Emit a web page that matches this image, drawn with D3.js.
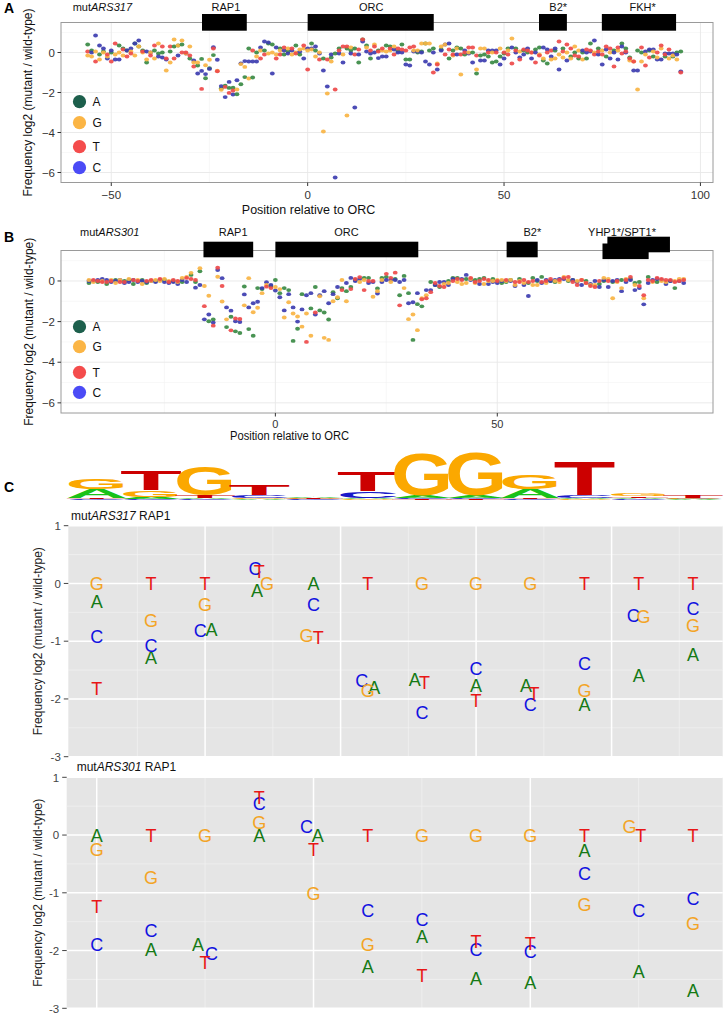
<!DOCTYPE html>
<html>
<head>
<meta charset="utf-8">
<script src="https://cdn.jsdelivr.net/npm/d3@7"></script>
<style>
  body { margin: 0; background: #fff; }
  svg { display: block; font-family: "Liberation Sans", Arial, sans-serif; }
</style>
</head>
<body>
<div id="fig"></div>
<script>
// Mutational scan of two silencers: log2(mutant / wild-type) per base and position.
// Panels A/B: every substitution along the silencer. Panel C: the RAP1 sites,
// with the motif logo on top.

const n = null;
const BASES = ["A", "C", "G", "T"];

// ---- panel A: mutARS317, positions -56 .. 95 ---------------------------------
const start317 = -56;
const a317A = [
  0.4, 0.1, n, -0.1, 0.05, n, 0.0, n, 0.35, 0.2,
  0.1, n, 0.45, 0.3, 0.1, -0.5, n, 0.1, -0.05, 0.0,
  n, 0.05, 0.3, 0.35, 0.4, n, -0.3, n, -0.65, -0.32,
  -1.29, -0.79, -0.13, n, -1.8, -1.66, -1.77, -1.76, -2.09, -1.59,
  -1.23, 0.2, -1.25, 0.0, n, 0.1, 0.45, 0.4, n, 0.2,
  -0.1, 0.05, n, 0.35, -0.1, n, n, 0.45, 0.1, n,
  -0.3, n, -0.25, -0.05, 0.2, n, 0.2, 0.1, 0.2, -0.5,
  0.65, 0.35, -0.3, n, 0.1, n, 0.35, 0.3, n, 0.05,
  0.4, -0.35, -0.35, n, 0.0, 0.05, 0.45, 0.1, 0.2, n,
  0.15, n, -0.3, 0.1, 0.25, 0.2, -0.1, n, 0.0, -1.05,
  -0.15, -0.1, -0.2, -0.5, -0.45, -0.2, -0.05, 0.2, n, 0.2,
  n, 0.1, 0.0, n, 0.15, 0.25, -0.4, -0.55, n, 0.1,
  n, 0.2, n, -0.2, 0.0, -0.3, 0.0, -0.3, 0.45, n,
  0.2, n, -0.2, n, 0.1, n, 0.45, 0.2, -0.25, n,
  0.1, 0.0, n, 0.1, -0.2, n, n, -0.2, n, -0.2,
  0.0, 0.05
];
const a317C = [
  n, 0.0, 0.85, 0.35, 0.2, -0.3, 0.1, -0.35, -0.35, n,
  0.1, 0.2, 0.45, 0.6, n, 0.05, 0.0, n, -0.2, -0.25,
  -0.35, n, n, -0.15, n, -0.05, n, -0.4, -1.05, -0.92,
  -1.08, -0.82, 0.26, -0.36, -1.68, -2.23, -1.47, -2.1, -1.39, -0.55,
  -0.43, -0.45, -0.45, -0.45, 0.25, 0.55, 0.5, -1.05, 0.25, n,
  0.1, -0.05, 0.1, n, 0.05, -0.3, 0.2, 0.2, 0.3, -0.05,
  -0.9, -1.7, -0.1, -6.25, -0.05, -0.5, n, -0.05, -2.75, -0.1,
  0.55, 0.05, -0.05, 0.0, -0.28, -0.2, -0.2, n, 0.15, 0.0,
  0.0, -0.6, -0.65, 0.05, 0.05, 0.0, -0.45, -0.6, 0.0, -0.85,
  0.1, 0.4, 0.45, n, -0.1, n, 0.1, -0.05, -0.5, n,
  -0.4, -0.4, 0.1, 0.1, 0.1, -0.6, -0.3, n, 0.25, 0.0,
  -0.25, -0.1, 0.2, -0.3, 0.0, n, 0.25, 0.15, -0.2, 0.2,
  -0.85, n, -0.4, n, n, n, 0.1, 0.0, 0.05, 0.6,
  -0.1, -0.6, 0.15, -0.3, 0.0, -0.35, 0.3, 0.0, n, -0.9,
  -0.9, n, 0.05, 0.15, 0.15, -0.35, -0.35, -0.05, -0.05, -0.05,
  -0.1, -0.95
];
const a317G = [
  -0.15, -0.2, 0.05, -0.35, 0.0, -0.2, n, -0.1, 0.0, -0.15,
  n, 0.05, -0.15, 0.3, 0.0, -0.35, 0.0, -0.3, 0.45, n,
  -0.9, -0.5, 0.65, 0.35, 0.6, -0.05, 0.3, -0.5, -0.5, n,
  -0.64, -0.36, n, -0.91, -1.86, n, n, n, -1.85, -0.58,
  -0.72, -1.3, n, -0.2, 0.1, n, -0.05, 0.0, -0.1, 0.1,
  n, 0.2, -0.1, 0.0, 0.15, 0.2, 0.1, 0.15, -0.2, 0.0,
  -3.95, -2.05, -0.45, n, n, -0.1, -3.15, 0.25, n, n,
  n, 0.25, n, 0.4, n, 0.1, 0.05, 0.1, 0.3, n,
  n, n, n, 0.1, 0.1, 0.45, 0.45, 0.45, n, -0.55,
  0.3, 0.4, n, -0.15, 0.2, -1.1, n, 0.0, n, -0.85,
  0.2, 0.2, n, 0.0, n, 0.2, n, 0.1, 0.7, n,
  0.05, n, n, 0.0, n, -0.1, -0.3, n, -0.35, -0.3,
  -0.1, -0.25, 0.0, -0.3, 0.3, 0.1, -0.35, n, n, 0.0,
  n, 0.1, n, 0.0, n, 0.1, n, n, -0.4, -0.45,
  -1.85, -0.45, -0.1, n, 0.05, -0.25, 0.2, n, -0.3, -0.15,
  -0.35, n
];
const a317T = [
  0.05, n, -0.45, n, n, -0.1, -0.45, 0.45, n, 0.15,
  -0.2, -0.05, n, n, 0.05, n, -0.15, 0.35, n, 0.3,
  -0.3, 0.3, -0.3, n, 0.0, 0.0, -0.15, -0.7, n, -1.82,
  n, n, 0.2, -0.94, n, -1.72, -2.02, -1.9, n, n,
  n, n, 0.1, n, -0.3, -0.1, n, n, -0.3, -0.1,
  0.25, n, 0.2, -0.05, n, 0.35, -0.85, n, n, -0.35,
  n, -0.35, n, -1.85, 0.1, 0.3, 0.3, n, -0.1, 0.15,
  0.65, n, 0.1, 0.3, 0.05, 0.2, n, 0.2, -0.1, 0.2,
  0.15, 0.1, 0.25, 0.3, n, n, n, n, -1.0, -0.6,
  n, -0.1, 0.15, -0.1, n, -0.1, 0.0, 0.25, 0.25, -0.15,
  n, n, 0.0, n, 0.0, n, 0.0, -0.1, -0.55, 0.1,
  -0.35, 0.15, 0.1, 0.0, -0.5, -0.15, n, 0.0, 0.1, n,
  0.55, 0.05, 0.4, 0.2, -0.15, -0.2, n, 0.15, 0.1, -0.1,
  0.05, -0.1, 0.3, 0.2, -0.7, 0.25, -0.05, 0.05, -0.3, -0.45,
  n, 0.25, -0.65, -0.25, n, 0.0, 0.35, -0.1, 0.15, n,
  n, -1.0
];

// ---- panel B: mutARS301, positions -42 .. 92 ---------------------------------
const start301 = -42;
const b301A = [
  -0.1, n, -0.05, n, -0.15, n, 0.05, n, 0.0, 0.05,
  -0.15, n, 0.05, -0.1, n, 0.0, n, 0.05, n, 0.0,
  n, -0.05, n, 0.3, -0.05, 0.48, n, -1.98, -1.9, n,
  n, -2.27, -1.76, -2.48, -2.56, -0.27, -2.37, -2.7, -0.35, -0.4,
  n, -0.25, 0.05, -0.6, -0.35, -0.45, -2.95, -2.35, -0.65, n,
  -1.35, -0.3, -1.45, -1.55, -1.9, -0.55, -0.85, -0.35, -0.5, -0.3,
  0.05, n, 0.15, 0.15, n, -0.37, 0.15, 0.2, n, 0.1,
  -0.7, 0.25, -0.6, -2.9, -1.14, -1.25, n, -0.05, -0.2, -0.3,
  n, 0.0, 0.15, 0.15, n, 0.1, n, 0.05, 0.1, 0.15,
  n, 0.1, n, -0.1, -0.05, 0.05, n, 0.1, n, -0.1,
  0.15, 0.0, 0.2, n, 0.0, -0.05, n, n, 0.0, 0.05,
  n, n, 0.0, n, n, -0.15, 0.0, n, -0.05, n,
  0.05, n, 0.1, -0.1, -0.05, n, 0.2, n, -0.05, n,
  n, 0.0, -0.35, n, n
];
const b301C = [
  0.0, 0.0, 0.05, 0.1, 0.05, -0.05, 0.0, 0.05, -0.1, -0.05,
  0.05, -0.05, 0.0, -0.05, 0.0, -0.05, 0.05, -0.05, -0.1, -0.05,
  -0.15, 0.05, -0.05, n, -0.33, -0.2, -1.89, -1.65, -2.05, 0.54,
  0.14, -1.3, -1.46, -1.98, -2.02, -0.66, -1.3, -1.1, -1.02, -0.35,
  -0.06, -0.2, -0.47, -0.8, -1.45, -0.65, -1.3, -2.0, -1.4, -0.7,
  -0.6, -1.65, -0.7, -0.5, -1.1, -0.65, -0.3, n, -0.1, 0.15,
  0.0, 0.1, n, -0.1, -0.05, -0.62, -0.05, 0.05, 0.05, 0.05,
  -0.05, 0.05, -1.1, -1.05, -0.6, n, -0.45, -0.45, -0.2, -0.05,
  -0.05, -0.2, 0.1, n, 0.1, 0.3, 0.05, n, -0.15, n,
  -0.15, -0.05, -0.1, 0.0, n, 0.0, -0.25, n, -0.2, -0.74,
  n, 0.05, -0.1, 0.05, 0.0, 0.05, 0.1, 0.1, n, 0.05,
  -0.05, -0.2, n, -0.15, 0.0, -0.3, 0.05, -0.3, 0.0, 0.05,
  -0.5, -0.05, 0.05, -0.45, -0.35, -1.15, -0.1, 0.05, 0.1, 0.05,
  -0.15, 0.0, n, 0.0, -0.1
];
const b301G = [
  0.05, -0.05, n, 0.0, n, 0.05, -0.1, 0.05, n, 0.1,
  n, 0.05, -0.15, n, 0.0, 0.05, 0.0, 0.1, 0.0, n,
  -0.05, 0.15, 0.2, 0.4, n, 0.63, -0.25, -0.73, n, 0.21,
  -1.01, -1.89, n, n, n, -1.2, 0.14, -1.54, -1.32, -0.6,
  -0.2, n, -0.3, -0.4, -1.8, -1.05, -1.6, -1.75, -2.25, -1.6,
  -2.7, n, -0.75, -2.8, -2.9, -1.0, -0.8, 0.05, -1.0, n,
  n, -0.05, 0.05, n, -0.78, -0.5, 0.05, n, -0.05, n,
  n, -0.35, -1.88, -1.65, -2.42, -0.85, -0.7, n, n, n,
  -0.15, -0.1, n, -0.05, -0.15, -0.1, 0.1, -0.1, n, -0.15,
  0.0, 0.0, 0.05, 0.05, 0.0, 0.05, -0.2, 0.0, -0.1, n,
  -0.2, -0.2, n, -0.1, n, 0.0, -0.05, 0.2, 0.05, n,
  0.0, 0.05, -0.1, -0.2, -0.2, n, 0.15, 0.1, -0.85, -0.05,
  -0.35, 0.1, n, -0.2, n, -0.85, n, -0.05, n, 0.0,
  -0.05, n, 0.0, 0.1, 0.1
];
const b301T = [
  n, 0.05, 0.0, -0.05, -0.05, 0.0, n, -0.05, -0.05, n,
  0.05, 0.0, n, 0.0, 0.05, n, 0.1, n, -0.05, 0.05,
  0.0, n, 0.15, 0.1, 0.05, n, -1.24, n, -2.2, 0.65,
  -0.25, n, -2.43, -1.85, -1.87, n, n, n, n, n,
  -0.28, -0.35, n, n, n, n, n, n, n, -3.0,
  n, -1.55, n, n, n, n, n, -0.45, n, -0.4,
  0.1, 0.19, -0.45, 0.0, 0.0, n, n, 0.35, 0.15, 0.41,
  -1.2, n, n, n, n, -0.9, -0.85, -0.55, -0.1, -0.25,
  -0.3, n, 0.0, 0.1, 0.05, n, 0.15, -0.05, 0.0, 0.1,
  0.05, n, 0.0, n, 0.05, n, -0.05, -0.05, 0.05, -0.05,
  0.0, n, -0.05, 0.0, 0.1, n, 0.05, 0.15, 0.2, -0.05,
  -0.2, 0.05, -0.1, -0.25, -0.3, 0.0, n, 0.0, n, 0.0,
  n, 0.05, 0.2, n, -0.25, -0.7, 0.05, 0.0, 0.15, 0.1,
  0.05, 0.05, -0.05, 0.0, 0.05
];

// sites drawn above panels A and B (positions relative to ORC)
const site317Names = ["RAP1", "ORC", "B2*", "FKH*"];
const site317Label = [-20.8, 16.2, 63.8, 85.3];
const box317Start = [-26.9, 0, 58.9, 74.9];
const box317End = [-15.5, 32.1, 66.0, 93.8];
const box317Site = [0, 1, 2, 3];

const site301Names = ["RAP1", "ORC", "B2*", "YHP1*/SPT1*"];
const site301Label = [-9.5, 16.0, 57.9, 78.1];
const box301Start = [-16.2, 0, 52.1, 73.7, 74.8];
const box301End = [-5.0, 32.2, 59.1, 84.1, 88.9];
const box301Site = [0, 1, 2, 3, 3];

const scatterYTicks = [0, -2, -4, -6];
const scatterYMinor = [1, -1, -3, -5];
const xTicks317 = [-50, 0, 50, 100];
const xTicks301 = [0, 50];
const xMinorScatter = [-25, 25, 75];

// ---- panel C: RAP1 sites, one letter per base ------------------------------
const rap317Pos = [-27, -26, -25, -24, -23, -22, -21, -20, -19, -18, -17, -16];
const rap317A = [-0.32, -1.29, -0.79, -0.13, 0, -1.8, -1.66, -1.77, -1.76, -2.09, -1.59, -1.23];
const rap317C = [-0.92, -1.08, -0.82, 0.26, -0.36, -1.68, -2.23, -1.47, -2.1, -1.39, -0.55, -0.43];
const rap317G = [0, -0.64, -0.36, 0, -0.91, -1.86, 0, 0, 0, -1.85, -0.58, -0.72];
const rap317T = [-1.82, 0, 0, 0.2, -0.94, 0, -1.72, -2.02, -1.9, 0, 0, 0];
// horizontal jitter of the letters (position units)
const jit317A = [0, 0, 0.12, -0.04, 0, 0.12, -0.13, 0, -0.08, 0, 0, 0];
const jit317C = [0, 0, -0.09, -0.08, 0, -0.11, 0, 0, 0, 0, -0.1, 0];
const jit317G = [0, 0, 0, 0.14, -0.13, 0, 0, 0, 0, 0, 0.09, 0];
const jit317T = [0, 0, 0, 0, 0.09, 0, 0.05, 0, 0.07, 0, 0, 0];
const grid317Major = [-25, -22.5, -20, -17.5];
const grid317Minor = [-26.25, -23.75, -21.25, -18.75, -16.25];

const rap301Pos = [-16, -15, -14, -13, -12, -11, -10, -9, -8, -7, -6, -5];
const rap301A = [0, -1.98, -1.9, 0, 0, -2.27, -1.76, -2.48, -2.56, -0.27, -2.37, -2.7];
const rap301C = [-1.89, -1.65, -2.05, 0.54, 0.14, -1.3, -1.46, -1.98, -2.02, -0.66, -1.3, -1.1];
const rap301G = [-0.25, -0.73, 0, 0.21, -1.01, -1.89, 0, 0, 0, -1.2, 0.14, -1.54];
const rap301T = [-1.24, 0, -2.2, 0.65, -0.25, 0, -2.43, -1.85, -1.87, 0, 0, 0];
const jit301A = [0, 0, -0.13, 0, 0.08, 0, 0, 0, 0, 0, 0, 0];
const jit301C = [0, 0, 0.12, 0, -0.13, 0, 0, 0, 0, 0, 0, 0];
const jit301G = [0, 0, 0, 0, 0, 0, 0, 0, 0, 0, -0.17, 0];
const jit301T = [0, 0, 0, 0, 0, 0, 0, 0, 0, 0, 0.04, 0];
const grid301Major = [-16, -12, -8];
const grid301Minor = [-14, -10, -6];

const letterYTicks = [1, 0, -1, -2, -3];
const letterYMinor = [0.5, -0.5, -1.5, -2.5];

// RAP1 motif logo, information (bits) per base and column
const logoA = [0.38, 0.08, 0.06, 0.04, 0.06, 0.05, 0.1, 0.1, 0.36, 0.06, 0.05, 0.03];
const logoC = [0.04, 0.04, 0.04, 0.12, 0.03, 0.28, 0.06, 0.05, 0.04, 0.1, 0.04, 0.03];
const logoG = [0.42, 0.28, 1.16, 0.04, 0.03, 0.04, 1.7, 1.75, 0.6, 0.04, 0.12, 0.03];
const logoT = [0.04, 0.8, 0.12, 0.44, 0.03, 0.8, 0.04, 0.04, 0.04, 1.36, 0.06, 0.08];

// ---- styles ----------------------------------------------------------------
const DOT = { A: "#3a8a44", C: "#3d3db0", G: "#f8b444", T: "#ee4a4a" };
const KEY = { A: "#1d5f4c", G: "#fbb545", T: "#f44c4c", C: "#4b4bf6" };
const LETTER = { A: "#157a15", C: "#1212e0", G: "#f3a426", T: "#e81616" };
const LOGO = { A: "#19c219", C: "#1818c8", G: "#fba800", T: "#cc0000" };
const NARROW = '"Liberation Sans Narrow", "Arial Narrow", "Liberation Sans", sans-serif';
const fmt = (v) => (v < 0 ? "\u2212" + Math.abs(v) : String(v));

const svg = d3.select("#fig").append("svg")
  .attr("width", 725).attr("height", 1015)
  .attr("viewBox", "0 0 725 1015");

function scatterPanel(p) {
  const g = svg.append("g");
  const x = d3.scaleLinear().domain(p.xDomain).range([p.left, p.right]);
  const y = d3.scaleLinear().domain([-6.5, 1.5]).range([p.bottom, p.top]);

  g.append("rect")
    .attr("x", p.left).attr("y", p.top)
    .attr("width", p.right - p.left).attr("height", p.bottom - p.top)
    .attr("fill", "#fff");

  g.selectAll(".ymin").data(scatterYMinor).enter().append("line")
    .attr("x1", p.left).attr("x2", p.right)
    .attr("y1", (d) => y(d)).attr("y2", (d) => y(d))
    .attr("stroke", "#f4f4f4").attr("stroke-width", 0.6);
  g.selectAll(".xmin").data(xMinorScatter).enter().append("line")
    .attr("y1", p.top).attr("y2", p.bottom)
    .attr("x1", (d) => x(d)).attr("x2", (d) => x(d))
    .attr("stroke", "#f4f4f4").attr("stroke-width", 0.6);
  g.selectAll(".ymaj").data(scatterYTicks).enter().append("line")
    .attr("x1", p.left).attr("x2", p.right)
    .attr("y1", (d) => y(d)).attr("y2", (d) => y(d))
    .attr("stroke", "#e8e8e8").attr("stroke-width", 0.9);
  g.selectAll(".xmaj").data(p.xTicks).enter().append("line")
    .attr("y1", p.top).attr("y2", p.bottom)
    .attr("x1", (d) => x(d)).attr("x2", (d) => x(d))
    .attr("stroke", "#e8e8e8").attr("stroke-width", 0.9);

  // points, interleaved by position like the source table
  const pts = [];
  p.series.A.forEach((_, i) => {
    BASES.forEach((b) => {
      const v = p.series[b][i];
      if (v !== null) pts.push({ pos: p.start + i, base: b, v });
    });
  });
  g.selectAll(".pt").data(pts).enter().append("ellipse")
    .attr("cx", (d) => x(d.pos)).attr("cy", (d) => y(d.v))
    .attr("rx", 2.4).attr("ry", 1.95)
    .attr("fill", (d) => DOT[d.base]).attr("fill-opacity", 0.92);

  g.append("rect")
    .attr("x", p.left).attr("y", p.top)
    .attr("width", p.right - p.left).attr("height", p.bottom - p.top)
    .attr("fill", "none").attr("stroke", "#9a9a9a").attr("stroke-width", 1);

  // axes
  g.selectAll(".yt").data(scatterYTicks).enter().append("line")
    .attr("x1", p.left - 3.5).attr("x2", p.left)
    .attr("y1", (d) => y(d)).attr("y2", (d) => y(d))
    .attr("stroke", "#333");
  g.selectAll(".yl").data(scatterYTicks).enter().append("text")
    .attr("x", p.left - 6).attr("y", (d) => y(d) + 4)
    .attr("text-anchor", "end").attr("font-size", 11.5).attr("fill", "#333")
    .text(fmt);
  g.selectAll(".xt").data(p.xTicks).enter().append("line")
    .attr("x1", (d) => x(d)).attr("x2", (d) => x(d))
    .attr("y1", p.bottom).attr("y2", p.bottom + 3.5)
    .attr("stroke", "#333");
  g.selectAll(".xl").data(p.xTicks).enter().append("text")
    .attr("x", (d) => x(d)).attr("y", p.xLabelY)
    .attr("text-anchor", "middle").attr("font-size", p.tickFont).attr("fill", "#333")
    .attr("font-family", p.narrow ? NARROW : null)
    .text(fmt);

  const xt = g.append("text")
    .attr("x", p.xTitleX).attr("y", p.xTitleY)
    .attr("text-anchor", "middle").attr("font-size", p.xTitleFont).attr("fill", "#111")
    .text("Position relative to ORC");
  if (p.narrow) {
    xt.attr("font-family", NARROW)
      .attr("textLength", 119).attr("lengthAdjust", "spacingAndGlyphs");
  }

  g.append("text")
    .attr("transform", `translate(${p.yTitleX},${(p.top + p.bottom) / 2}) rotate(-90)`)
    .attr("text-anchor", "middle").attr("font-size", 12).attr("fill", "#111")
    .text("Frequency log2 (mutant / wild-type)");

  // legend
  const keys = ["A", "G", "T", "C"];
  keys.forEach((b, i) => {
    const ky = p.legendY[i];
    g.append("circle").attr("cx", p.left + 18.5).attr("cy", ky).attr("r", 6.6)
      .attr("fill", KEY[b]);
    g.append("text").attr("x", p.left + 31.5).attr("y", ky + 4.3)
      .attr("font-size", 12).attr("fill", "#111").text(b);
  });

  // binding sites
  let prevSite = -1, stagger = 0;
  p.boxStart.forEach((s, i) => {
    const site = p.boxSite[i];
    stagger = site === prevSite ? stagger + 1 : 0;
    prevSite = site;
    const shared = p.boxSite.filter((k) => k === site).length > 1;
    const dy = shared ? (stagger === 0 ? 1.8 : -5) : 0;
    g.append("rect")
      .attr("x", x(s)).attr("width", x(p.boxEnd[i]) - x(s))
      .attr("y", p.boxTop + dy).attr("height", p.boxH)
      .attr("fill", "#000");
  });
  p.siteNames.forEach((name, i) => {
    g.append("text").attr("x", x(p.siteLabel[i])).attr("y", p.siteTextY)
      .attr("text-anchor", "middle").attr("font-size", 11).attr("fill", "#111")
      .text(name);
  });
  const t = g.append("text").attr("x", p.tagX).attr("y", p.siteTextY)
    .attr("font-size", 11).attr("fill", "#111");
  t.append("tspan").text("mut");
  t.append("tspan").attr("font-style", "italic").text(p.tag);

  svg.append("text").attr("x", 4).attr("y", p.letterY)
    .attr("font-size", 14).attr("font-weight", "bold").attr("fill", "#000")
    .text(p.letter);
}

scatterPanel({
  letter: "A", letterY: 13, tag: "ARS317", tagX: 72.7,
  left: 61, right: 713, top: 22.5, bottom: 182.5,
  xDomain: [-62.8, 103.2], xTicks: xTicks317, start: start317,
  series: { A: a317A, C: a317C, G: a317G, T: a317T },
  xLabelY: 199, tickFont: 11.5, xTitleX: 308.5, xTitleY: 213.5, xTitleFont: 12.5,
  yTitleX: 32, legendY: [101.7, 122.7, 146.7, 167.7],
  siteNames: site317Names, siteLabel: site317Label,
  boxStart: box317Start, boxEnd: box317End, boxSite: box317Site,
  boxTop: 14, boxH: 16.7, siteTextY: 11, narrow: false,
});

scatterPanel({
  letter: "B", letterY: 242, tag: "ARS301", tagX: 80,
  left: 61, right: 713, top: 250.5, bottom: 413,
  xDomain: [-48.3, 98.6], xTicks: xTicks301, start: start301,
  series: { A: b301A, C: b301C, G: b301G, T: b301T },
  xLabelY: 428, tickFont: 11, xTitleX: 289.5, xTitleY: 440, xTitleFont: 12,
  yTitleX: 33, legendY: [326.7, 346.7, 372.3, 392.3],
  siteNames: site301Names, siteLabel: site301Label,
  boxStart: box301Start, boxEnd: box301End, boxSite: box301Site,
  boxTop: 241.7, boxH: 15.6, siteTextY: 235.5, narrow: true,
});

svg.append("text").attr("x", 4).attr("y", 492)
  .attr("font-size", 14).attr("font-weight", "bold").attr("fill", "#000").text("C");

function letterPanel(p) {
  const g = svg.append("g");
  const x = d3.scaleLinear().domain(p.xDomain).range([p.left, p.right]);
  const y = d3.scaleLinear().domain([-3, 1]).range([p.bottom, p.top]);

  g.append("rect")
    .attr("x", p.left).attr("y", p.top)
    .attr("width", p.right - p.left).attr("height", p.bottom - p.top)
    .attr("fill", "#e5e5e5");
  g.selectAll(".ymin").data(letterYMinor).enter().append("line")
    .attr("x1", p.left).attr("x2", p.right)
    .attr("y1", (d) => y(d)).attr("y2", (d) => y(d))
    .attr("stroke", "#f2f2f2").attr("stroke-width", 0.7);
  g.selectAll(".xmin").data(p.gridMinor).enter().append("line")
    .attr("y1", p.top).attr("y2", p.bottom)
    .attr("x1", (d) => x(d)).attr("x2", (d) => x(d))
    .attr("stroke", "#f2f2f2").attr("stroke-width", 0.7);
  g.selectAll(".ymaj").data(letterYTicks).enter().append("line")
    .attr("x1", p.left).attr("x2", p.right)
    .attr("y1", (d) => y(d)).attr("y2", (d) => y(d))
    .attr("stroke", "#fff").attr("stroke-width", 1.5);
  g.selectAll(".xmaj").data(p.gridMajor).enter().append("line")
    .attr("y1", p.top).attr("y2", p.bottom)
    .attr("x1", (d) => x(d)).attr("x2", (d) => x(d))
    .attr("stroke", "#fff").attr("stroke-width", 1.5);

  const letters = [];
  p.pos.forEach((pos, i) => {
    BASES.forEach((b) => {
      letters.push({ base: b, x: pos + p.jitter[b][i], v: p.values[b][i] });
    });
  });
  g.selectAll(".lt").data(letters).enter().append("text")
    .attr("x", (d) => x(d.x)).attr("y", (d) => y(d.v))
    .attr("dy", "0.36em").attr("text-anchor", "middle")
    .attr("font-size", 18).attr("fill", (d) => LETTER[d.base])
    .text((d) => d.base);

  g.selectAll(".yt").data(letterYTicks).enter().append("line")
    .attr("x1", p.left - 4.5).attr("x2", p.left)
    .attr("y1", (d) => y(d)).attr("y2", (d) => y(d))
    .attr("stroke", "#444");
  g.selectAll(".yl").data(letterYTicks).enter().append("text")
    .attr("x", p.left - 7.5).attr("y", (d) => y(d) + 4.2)
    .attr("text-anchor", "end").attr("font-size", 11.5).attr("fill", "#444")
    .text((d) => String(d));

  g.append("text")
    .attr("transform", `translate(38,${(p.top + p.bottom) / 2}) rotate(-90)`)
    .attr("text-anchor", "middle").attr("dy", "0.35em")
    .attr("font-size", 12).attr("fill", "#222")
    .text("Frequency log2 (mutant / wild-type)");

  const t = g.append("text").attr("x", p.titleX).attr("y", p.top - 6)
    .attr("font-size", 12).attr("fill", "#111");
  t.append("tspan").text("mut");
  t.append("tspan").attr("font-style", "italic").text(p.tag);
  t.append("tspan").text(" RAP1");
  return x;
}

const x317 = letterPanel({
  tag: "ARS317", titleX: 71, left: 68.3, right: 722.7, top: 525.7, bottom: 756.7,
  xDomain: [-27.524, -15.45], pos: rap317Pos,
  values: { A: rap317A, C: rap317C, G: rap317G, T: rap317T },
  jitter: { A: jit317A, C: jit317C, G: jit317G, T: jit317T },
  gridMajor: grid317Major, gridMinor: grid317Minor,
});

letterPanel({
  tag: "ARS301", titleX: 76.7, left: 66.7, right: 722.7, top: 777.3, bottom: 1008.3,
  xDomain: [-16.554, -4.45], pos: rap301Pos,
  values: { A: rap301A, C: rap301C, G: rap301G, T: rap301T },
  jitter: { A: jit301A, C: jit301C, G: jit301G, T: jit301T },
  gridMajor: grid301Major, gridMinor: grid301Minor,
});

// motif logo, columns aligned with the mutARS317 RAP1 positions
(function drawLogo() {
  const g = svg.append("g");
  const base = 500, bitPx = 25, colW = 62, fs = 40;
  const logo = { A: logoA, C: logoC, G: logoG, T: logoT };
  rap317Pos.forEach((pos, i) => {
    const cx = x317(pos);
    const stack = BASES.map((b) => ({ b, h: logo[b][i] * bitPx }))
      .sort((p, q) => p.h - q.h);
    let y0 = base;
    stack.forEach((s) => {
      if (s.h >= 0.4) {
        g.append("text")
          .attr("x", 0).attr("y", 0)
          .attr("font-size", fs).attr("font-weight", "bold")
          .attr("textLength", colW).attr("lengthAdjust", "spacingAndGlyphs")
          .attr("transform", `translate(${cx - colW / 2},${y0}) scale(1,${s.h / (0.72 * fs)})`)
          .attr("fill", LOGO[s.b])
          .text(s.b);
      }
      y0 -= s.h;
    });
  });
})();
</script>
</body>
</html>
